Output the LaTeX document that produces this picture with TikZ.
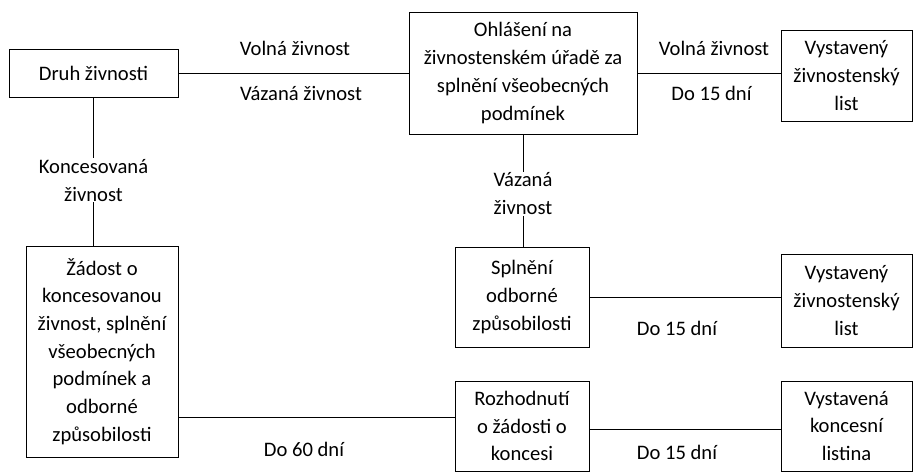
\documentclass[tikz,border=0pt]{standalone}
\usepackage{fontspec}
\setmainfont{Carlito}
\tikzset{
  box/.style={draw, line width=1pt, align=center, inner sep=0pt, font=\fontsize{20.6}{27.7}\selectfont},
  lbl/.style={align=center, inner sep=1pt, font=\fontsize{20.6}{27.7}\selectfont},
}
\begin{document}
\begin{tikzpicture}[x=1pt, y=-1pt, line width=1pt]
\useasboundingbox (0,0) rectangle (913,472);
% boxes
\node[box, minimum width=169pt, minimum height=48pt] (druh) at (93.5,73) {Druh živnosti};
\node[box, minimum width=228pt, minimum height=122pt] (ohlaseni) at (523,73) {Ohlášení na\\živnostenském úřadě za\\splnění všeobecných\\podmínek};
\node[box, minimum width=131pt, minimum height=91pt] (list1) at (846.5,75.5) {Vystavený\\živnostenský\\list};
\node[box, minimum width=134pt, minimum height=100pt] (splneni) at (522,297) {Splnění\\odborné\\způsobilosti};
\node[box, minimum width=131pt, minimum height=93pt] (list2) at (846.5,300.5) {Vystavený\\živnostenský\\list};
\node[box, minimum width=152pt, minimum height=211pt] (zadost) at (102,351.5) {Žádost o\\koncesovanou\\živnost, splnění\\všeobecných\\podmínek a\\odborné\\způsobilosti};
\node[box, minimum width=134pt, minimum height=90pt] (rozhodnuti) at (522,426) {Rozhodnutí\\o žádosti o\\koncesi};
\node[box, minimum width=131pt, minimum height=90pt] (listina) at (846.5,426) {Vystavená\\koncesní\\listina};
% connectors
\draw (druh.east) -- (ohlaseni.west);
\draw (ohlaseni.east) -- (ohlaseni.east -| list1.west);
\draw (ohlaseni.south) -- node[lbl, fill=white, pos=0.53] {Vázaná\\živnost} (ohlaseni.south |- splneni.north);
\draw (druh.south) -- node[lbl, fill=white, pos=0.56] {Koncesovaná\\živnost} (druh.south |- zadost.north);
\draw (splneni.east) -- (splneni.east -| list2.west);
\draw ([yshift=9pt]rozhodnuti.west -| zadost.east) -- ([yshift=9pt]rozhodnuti.west);
\draw ([yshift=-3pt]rozhodnuti.east) -- ([yshift=-3pt]rozhodnuti.east -| listina.west);
% labels
\node[lbl] (volna1) at (295,48) {Volná živnost};
\node[lbl] (vazana1) at (301,93) {Vázaná živnost};
\node[lbl] (volna2) at (714,48) {Volná živnost};
\node[lbl] (lhuta1) at (711.5,93) {Do 15 dní};
\node[lbl] (lhuta2) at (677,328) {Do 15 dní};
\node[lbl] (lhuta3) at (677,452) {Do 15 dní};
\node[lbl] (lhuta4) at (304,449) {Do 60 dní};
\end{tikzpicture}
\end{document}
